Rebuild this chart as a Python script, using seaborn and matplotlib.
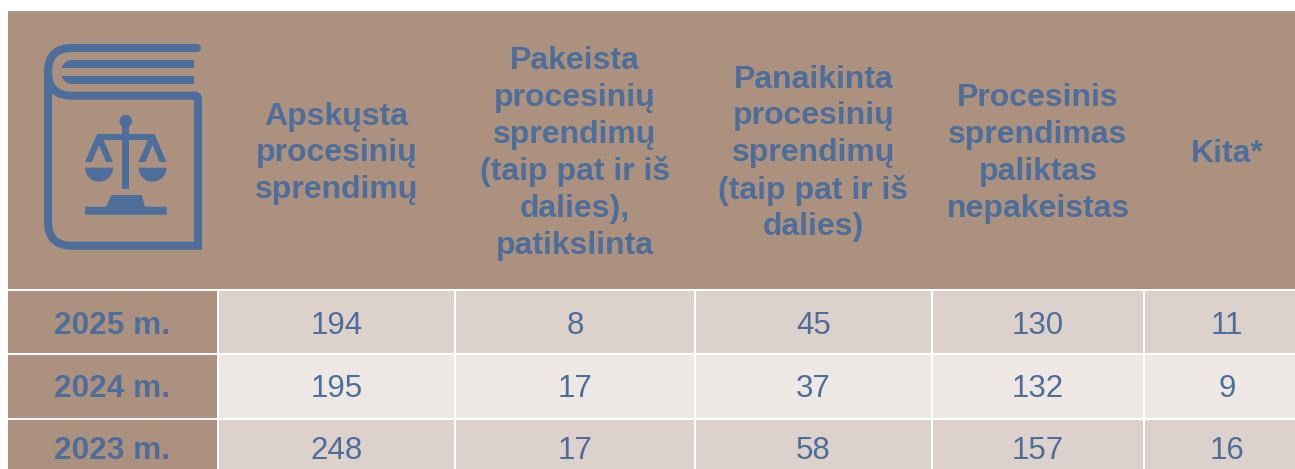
import numpy as np
import seaborn as sns
import matplotlib
matplotlib.use('Agg')
import matplotlib.pyplot as plt
from matplotlib.colors import ListedColormap
from matplotlib.patches import Circle, Polygon, Rectangle, Wedge, PathPatch
from matplotlib.path import Path

years = ['2025 m.', '2024 m.', '2023 m.']
headers = ['Apskųsta\nprocesinių\nsprendimų',
           'Pakeista\nprocesinių\nsprendimų\n(taip pat ir iš\ndalies),\npatikslinta',
           'Panaikinta\nprocesinių\nsprendimų\n(taip pat ir iš\ndalies)',
           'Procesinis\nsprendimas\npaliktas\nnepakeistas',
           'Kita*']
apskusta = [194, 195, 248]
pakeista = [8, 17, 17]
panaikinta = [45, 37, 58]
paliktas = [130, 132, 157]
kita = [11, 9, 16]

BROWN = '#AD917F'
BLUE = '#4D6E9A'
DARK = '#DDD1CC'
LIGHT = '#EDE8E4'
W, H = 1295, 469

sns.set_theme(style='white')
plt.rcParams['font.family'] = ['Liberation Sans', 'DejaVu Sans']

fig = plt.figure(figsize=(W / 100, H / 100), dpi=100, facecolor='white')

# column and row edges in pixels, table runs past the crop on the right and bottom
edges = [7, 218, 455, 695, 932, 1144, 1310]
top, bottom = 290, 483.5
row_h = (bottom - top) / 3
nudge = [3.5, 2.5, 0]  # text sits a bit lower in the first rows
cmap = ListedColormap([BROWN, DARK, LIGHT])


def column_ax(x0, x1):
    return fig.add_axes([x0 / W, 1 - bottom / H, (x1 - x0) / W, (bottom - top) / H])


def move_annots(ax):
    for t, dy in zip(ax.texts, nudge):
        t.set_y(t.get_position()[1] + dy / row_h)


# year column
ax = column_ax(edges[0], edges[1])
sns.heatmap(np.zeros((3, 1)), annot=np.array(years).reshape(3, 1), fmt='', cmap=cmap, vmin=0, vmax=2,
            cbar=False, linewidths=1.44, linecolor='white', xticklabels=False, yticklabels=False, ax=ax,
            annot_kws={'color': BLUE, 'fontsize': 22.8, 'fontweight': 'bold'})
move_annots(ax)

# value columns
bands = np.array([[1], [2], [1]])
for i, vals in enumerate([apskusta, pakeista, panaikinta, paliktas, kita]):
    ax = column_ax(edges[i + 1], edges[i + 2])
    sns.heatmap(bands, annot=np.array(vals).reshape(3, 1), fmt='d', cmap=cmap, vmin=0, vmax=2,
                cbar=False, linewidths=1.44, linecolor='white', xticklabels=False, yticklabels=False, ax=ax,
                annot_kws={'color': BLUE, 'fontsize': 22.5})
    move_annots(ax)

# header band, drawn in pixel coordinates
hd = fig.add_axes([0, 0, 1, 1], facecolor='none')
hd.set_xlim(0, W)
hd.set_ylim(H, 0)
hd.axis('off')
hd.add_patch(Rectangle((8, 11), W - 8, 278, color=BROWN, lw=0))
for i, label in enumerate(headers):
    cx = (edges[i + 1] + edges[i + 2]) / 2
    hd.text(cx, 153.5, label, color=BLUE, fontsize=23, fontweight='bold', ha='center', va='center',
            linespacing=1.29)

# book icon
book = Path([(197, 48), (72, 48), (48, 48), (48, 72), (48, 222), (48, 245.7), (72, 245.7), (198, 245.7),
             (198, 99), (198, 95.7), (194, 95.7), (72, 95.7), (48, 95.7), (48, 72)],
            [Path.MOVETO, Path.LINETO, Path.CURVE3, Path.CURVE3, Path.LINETO, Path.CURVE3, Path.CURVE3,
             Path.LINETO, Path.LINETO, Path.CURVE3, Path.CURVE3, Path.LINETO, Path.CURVE3, Path.CURVE3])
hd.add_patch(PathPatch(book, fill=False, edgecolor=BLUE, lw=5.8, capstyle='round', joinstyle='miter'))
page1 = Path([(194, 60), (72, 60), (65, 60), (61, 68), (194, 68), (194, 60)],
             [Path.MOVETO, Path.LINETO, Path.CURVE3, Path.CURVE3, Path.LINETO, Path.CLOSEPOLY])
page2 = Path([(194, 76), (61, 76), (65, 84), (72, 84), (194, 84), (194, 76)],
             [Path.MOVETO, Path.LINETO, Path.CURVE3, Path.CURVE3, Path.LINETO, Path.CLOSEPOLY])
for page in (page1, page2):
    hd.add_patch(PathPatch(page, color=BLUE, lw=0))

# scales
hd.add_patch(Circle((125.7, 121), 6.3, color=BLUE, lw=0))
hd.add_patch(Rectangle((122.4, 125), 6.6, 64, color=BLUE, lw=0))
hd.add_patch(Rectangle((97, 134), 58, 6.2, color=BLUE, lw=0))
for cx in (99, 152.5):
    hd.add_patch(Polygon([(cx - 2, 134), (cx + 2, 134), (cx + 14, 162), (cx + 7, 162), (cx, 145),
                          (cx - 7, 162), (cx - 14, 162)], color=BLUE, lw=0))
    hd.add_patch(Wedge((cx, 167.7), 14, 0, 180, color=BLUE, lw=0))
hd.add_patch(Polygon([(111.7, 195), (141.7, 195), (145, 206.7), (166.7, 206.7), (166.7, 214.7), (85, 214.7),
                      (85, 206.7), (106, 206.7)], color=BLUE, lw=0))

fig.savefig('out.png', dpi=100)
